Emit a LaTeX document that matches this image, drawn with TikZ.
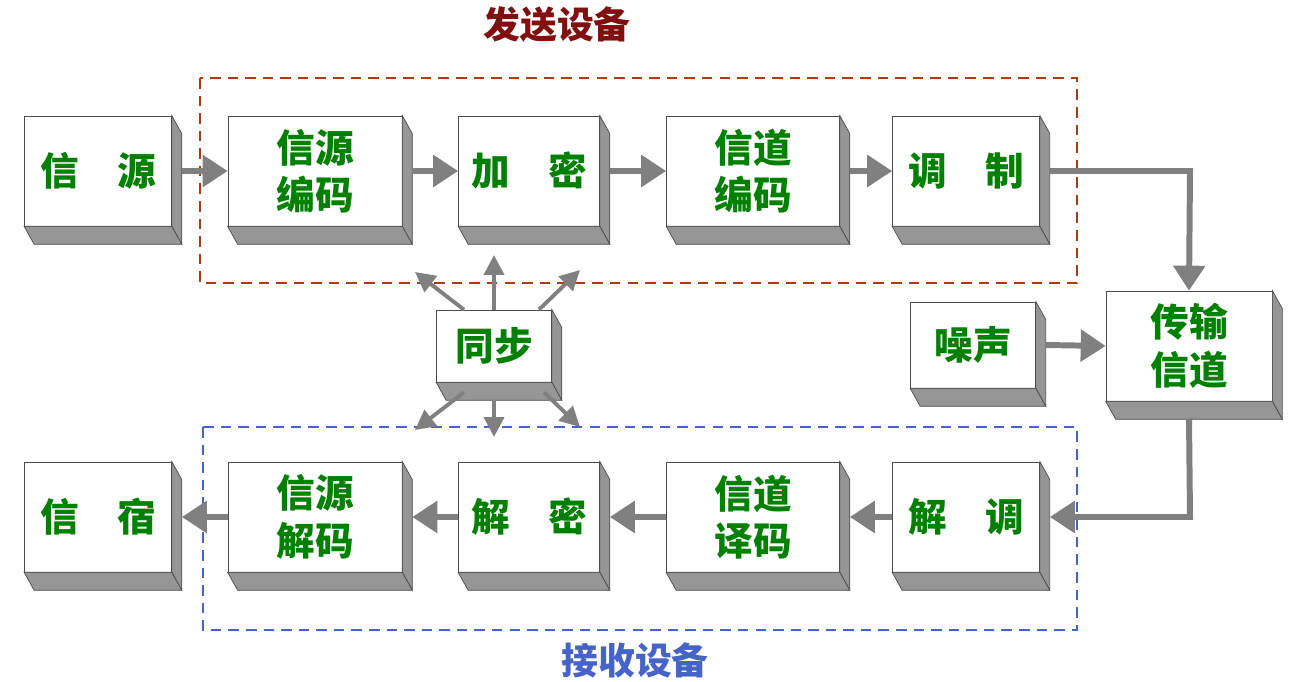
\documentclass[tikz,border=0pt]{standalone}
\usepackage{fontspec}
\setmainfont{Noto Sans CJK SC}
\usetikzlibrary{arrows.meta}
\definecolor{txtgreen}{RGB}{0,128,0}
\definecolor{sidegray}{RGB}{150,150,150}
\definecolor{arrgray}{RGB}{128,128,128}
\definecolor{sendred}{RGB}{130,15,15}
\definecolor{sendbox}{RGB}{170,60,20}
\definecolor{recvblue}{RGB}{70,100,200}
\tikzset{
  blk/.style={draw=black!70,fill=white,inner sep=0pt,minimum height=2.2cm,align=center,
    text=txtgreen,font=\fontsize{22}{27}\selectfont\bfseries},
  flow/.style={draw=arrgray,line width=3.4pt,-{Triangle[length=0.5cm,width=0.62cm]}},
  sync/.style={draw=arrgray,line width=2.2pt,-{Triangle[length=0.4cm,width=0.4cm]}},
}
\newcommand{\extrude}[1]{%
  \filldraw[fill=sidegray,draw=black!70] (#1.north east)--([shift={(10,18)}]#1.north east)--([shift={(10,18)}]#1.south east)--(#1.south east)--cycle;
  \filldraw[fill=sidegray,draw=black!70] (#1.south west)--([shift={(10,18)}]#1.south west)--([shift={(10,18)}]#1.south east)--(#1.south east)--cycle;}
\begin{document}
\begin{tikzpicture}[x=0.02cm,y=-0.02cm]
\useasboundingbox (0,0) rectangle (1310,682);

\draw[sendbox,line width=1.3pt,dash pattern=on 6pt off 4pt] (200,78) rectangle (1077,283);
\draw[recvblue,line width=1.3pt,dash pattern=on 6pt off 4pt] (203,427) rectangle (1077,630);
\node[text=sendred,font=\fontsize{21}{24}\selectfont\bfseries] (send) at (557,25) {发送设备};
\node[text=recvblue,font=\fontsize{21}{24}\selectfont\bfseries] (recv) at (635,660) {接收设备};

% upper row
\node[blk,minimum width=2.94cm] (src) at (98,171) {信\quad 源};
\node[blk,minimum width=3.48cm] (senc) at (315,171) {信源\\编码};
\node[blk,minimum width=2.82cm] (enc) at (529,171) {加\quad 密};
\node[blk,minimum width=3.46cm] (cenc) at (753,171) {信道\\编码};
\node[blk,minimum width=2.94cm] (mod) at (966,171) {调\quad 制};
% channel, noise, sync
\node[blk,minimum width=3.32cm] (chan) at (1189,346) {传输\\信道};
\node[blk,minimum width=2.5cm,minimum height=1.72cm] (noise) at (973,345) {噪声};
\node[blk,minimum width=2.3cm,minimum height=1.44cm] (sync) at (494,346) {同步};
% lower row
\node[blk,minimum width=2.94cm] (dst) at (98,517) {信\quad 宿};
\node[blk,minimum width=3.48cm] (sdec) at (315,517) {信源\\解码};
\node[blk,minimum width=2.82cm] (dec) at (529,517) {解\quad 密};
\node[blk,minimum width=3.46cm] (cdec) at (753,517) {信道\\译码};
\node[blk,minimum width=2.94cm] (demod) at (966,517) {解\quad 调};

\foreach \b in {src,senc,enc,cenc,mod,chan,noise,sync,dst,sdec,dec,cdec,demod} {\extrude{\b}}

\coordinate (c1) at (1190,171);
\coordinate (c2) at (1190,517);
\draw[flow] ([xshift=0.2cm]src.east) -- (senc.west);
\draw[flow] ([xshift=0.2cm]senc.east) -- (enc.west);
\draw[flow] ([xshift=0.2cm]enc.east) -- (cenc.west);
\draw[flow] ([xshift=0.2cm]cenc.east) -- (mod.west);
\draw[flow] ([xshift=0.2cm]mod.east) -- (c1) -- (chan.north);
\draw[flow] ([xshift=0.2cm]noise.east) -- (chan.west);
\draw[flow] ([yshift=-0.36cm]chan.south) -- (c2) -- ([xshift=0.2cm]demod.east);
\draw[flow] (demod.west) -- ([xshift=0.2cm]cdec.east);
\draw[flow] (cdec.west) -- ([xshift=0.2cm]dec.east);
\draw[flow] (dec.west) -- ([xshift=0.2cm]sdec.east);
\draw[flow] (sdec.west) -- ([xshift=0.2cm]dst.east);

\coordinate (s1) at (415,272);
\coordinate (s2) at (494,255);
\coordinate (s3) at (580,270);
\coordinate (s4) at (415,430);
\coordinate (s5) at (494,437);
\coordinate (s6) at (580,427);
\draw[sync] ([xshift=-0.6cm]sync.north) -- (s1);
\draw[sync] (sync.north) -- (s2);
\draw[sync] ([xshift=0.9cm]sync.north) -- (s3);
\draw[sync] ([xshift=-0.6cm,yshift=-0.2cm]sync.south) -- (s4);
\draw[sync] ([yshift=-0.36cm]sync.south) -- (s5);
\draw[sync] ([xshift=1.0cm,yshift=-0.2cm]sync.south) -- (s6);
\end{tikzpicture}
\end{document}
